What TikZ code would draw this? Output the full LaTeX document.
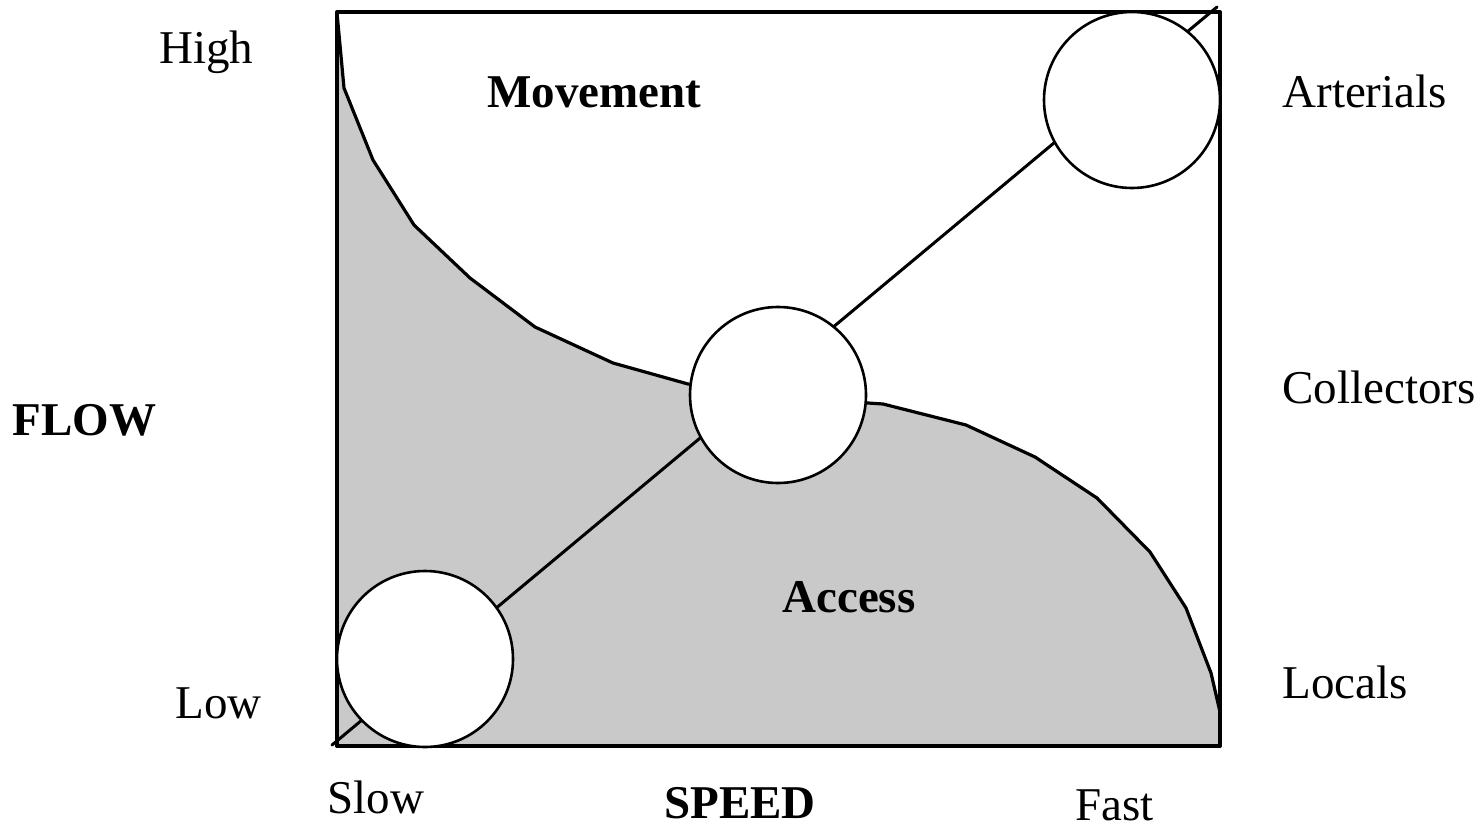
\documentclass[tikz,border=0pt]{standalone}
\usepackage{fontspec}
\setmainfont{Liberation Serif}
\definecolor{vungxam}{gray}{0.79}
\begin{document}
\begin{tikzpicture}[x=0.5pt,y=-0.5pt,font=\fontsize{23.5}{28}\selectfont, line join=round, line cap=round,
		vong/.style={circle,draw,fill=white,line width=1.3pt,minimum size=88pt,inner sep=0pt},
		nhan/.style={inner sep=0pt,anchor=base west}]
			%%Khung hinh
			\useasboundingbox (0,0) rectangle (1483,830);
			%%Vung tiep can (mau xam)
			\filldraw[fill=vungxam,line width=1.6pt] (337,13) -- (344,88) -- (373,160) -- (414,225) -- (470,278)
			-- (535,327) -- (613,363) -- (688,384) -- (868,403) -- (883,404) -- (966,425) -- (1035,457)
			-- (1097,498) -- (1150,552) -- (1186,608) -- (1211,673) -- (1220,712) -- (1220,746) -- (337,746) -- cycle;
			\draw[line width=2pt] (337,12) rectangle (1220,746);
			%%Duong cheo
			\coordinate (dau) at (332,745);
			\coordinate (cuoi) at (1217,7);
			\draw[line width=1.5pt] (dau)--(cuoi);
			%%Cac vong tron
			\node[vong] (cham) at (425,659) {};
			\node[vong] (gom) at (778,395) {};
			\node[vong] (truc) at (1132,100) {};
			%%Nhan
			\node[nhan] (cao) at (159,63) {High};
			\node[nhan] (thap) at (175,718) {Low};
			\node[nhan] (luuluong) at (12,435) {\bfseries FLOW};
			\node[nhan] (cham1) at (327,813) {Slow};
			\node[nhan] (tocdo) at (664,818) {\bfseries SPEED};
			\node[nhan] (nhanh) at (1075,820) {Fast};
			\node[nhan] (duongchinh) at (1282,107) {Arterials};
			\node[nhan] (duonggom) at (1282,403) {Collectors};
			\node[nhan] (duongnho) at (1282,698) {Locals};
			\node[nhan] (dichuyen) at (487,107) {\bfseries Movement};
			\node[nhan] (tiepcan) at (782,612) {\bfseries Access};
		\end{tikzpicture}
\end{document}
